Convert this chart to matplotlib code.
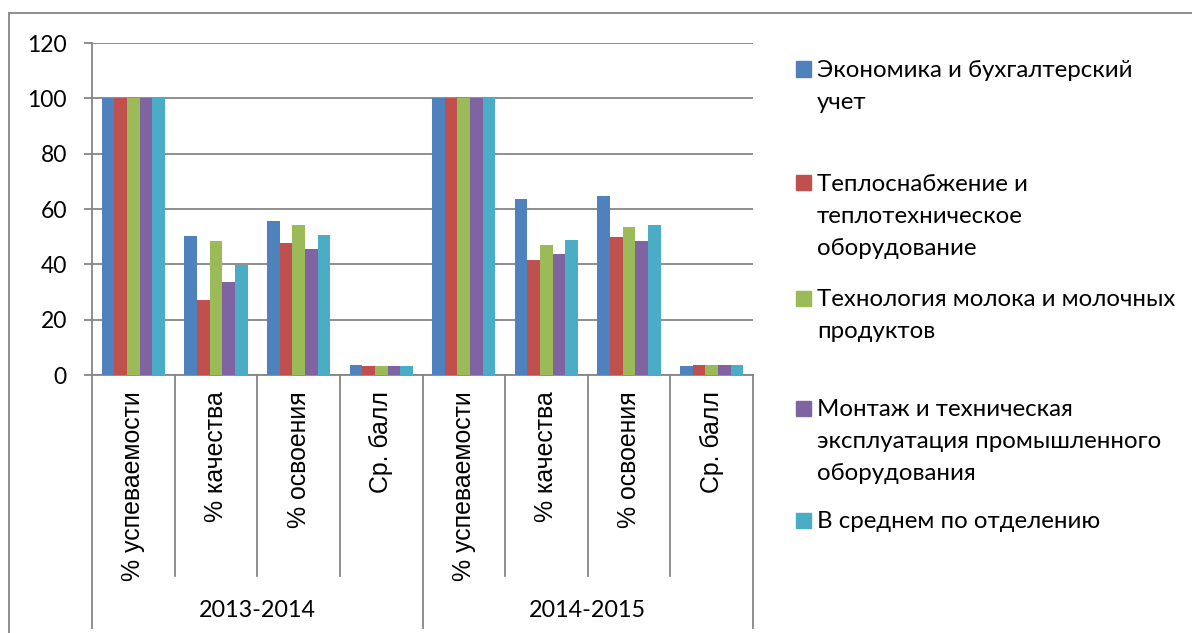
import matplotlib
matplotlib.use('Agg')
import matplotlib.pyplot as plt
import matplotlib.transforms as mtransforms
from matplotlib.lines import Line2D
from matplotlib.patches import Rectangle
import numpy as np

# data
years = ['2013-2014', '2014-2015']
metrics = ['% успеваемости', '% качества', '% освоения', 'Ср. балл']
series_names = ['Экономика и бухгалтерский\nучет',
                'Теплоснабжение и\nтеплотехническое\nоборудование',
                'Технология молока и молочных\nпродуктов',
                'Монтаж и техническая\nэксплуатация промышленного\nоборудования',
                'В среднем по отделению']
economics = [100, 50.2, 55.5, 3.6, 100, 63.6, 64.6, 3.2]
heating = [100, 27.1, 47.6, 3.4, 100, 41.4, 49.7, 3.6]
dairy = [100, 48.4, 54.2, 3.4, 100, 46.9, 53.6, 3.6]
mounting = [100, 33.5, 45.4, 3.3, 100, 43.8, 48.3, 3.5]
average = [100, 39.9, 50.7, 3.4, 100, 48.9, 54.1, 3.5]
values = [economics, heating, dairy, mounting, average]
colors = ['#4F81BD', '#C0504D', '#9BBB59', '#8064A2', '#4BACC6']

W, H = 1192, 633
gray = '#868686'
text_font = ['Lato', 'Open Sans', 'DejaVu Sans']

fig = plt.figure(figsize=(W / 100, H / 100), dpi=100)

# outer chart frame
fig.add_artist(Line2D([9 / W, 9 / W], [0, 1 - 13 / H], color=gray, lw=1.3))
fig.add_artist(Line2D([9 / W, 1], [1 - 13 / H, 1 - 13 / H], color=gray, lw=1.3))

ax = fig.add_axes([92 / W, 258 / H, 661 / W, 332 / H])

n_cat = len(years) * len(metrics)
x = np.arange(n_cat)
bw = 0.153
for i, (vals, c) in enumerate(zip(values, colors)):
    ax.bar(x + (i - 2) * bw, vals, width=bw, color=c, zorder=3)

ax.set_xlim(-0.5, n_cat - 0.5)
ax.set_ylim(0, 120)
ax.set_yticks(range(0, 121, 20))
ax.yaxis.grid(True, color=gray, lw=1.3, zorder=0)
ax.set_xticks([])
for s in ['top', 'right']:
    ax.spines[s].set_visible(False)
for s in ['left', 'bottom']:
    ax.spines[s].set_color(gray)
    ax.spines[s].set_linewidth(1.3)
ax.tick_params(axis='y', length=6, width=1.3, color=gray, pad=12, labelsize=16.5)
for lbl in ax.get_yticklabels():
    lbl.set_family(text_font)

# multi-level category axis
trans = mtransforms.blended_transform_factory(ax.transData, ax.transAxes)
for i in range(n_cat + 1):
    low = -0.762 if i % len(metrics) == 0 else -0.605
    ax.plot([i - 0.5, i - 0.5], [0, low], color=gray, lw=1.3,
            transform=trans, clip_on=False)
for i in range(n_cat):
    ax.text(i, -0.048, metrics[i % len(metrics)], rotation=90, ha='center', va='top',
            fontsize=17.9, family='Liberation Sans', transform=trans)
for j, yr in enumerate(years):
    ax.text(j * len(metrics) + 1.5, -0.708, yr, ha='center', va='center',
            fontsize=16.8, family=text_font, transform=trans)

# legend
legend_y = [69, 183, 298, 408, 520]
for name, c, y0 in zip(series_names, colors, legend_y):
    fig.add_artist(Rectangle((796 / W, 1 - (y0 + 7.5) / H), 15 / W, 15 / H,
                             color=c, transform=fig.transFigure))
    for k, line in enumerate(name.split('\n')):
        fig.text(817 / W, 1 - (y0 + k * 32 + 8) / H, line, ha='left', va='baseline',
                 fontsize=17.3, family=text_font)

fig.savefig('out.png', dpi=100)
